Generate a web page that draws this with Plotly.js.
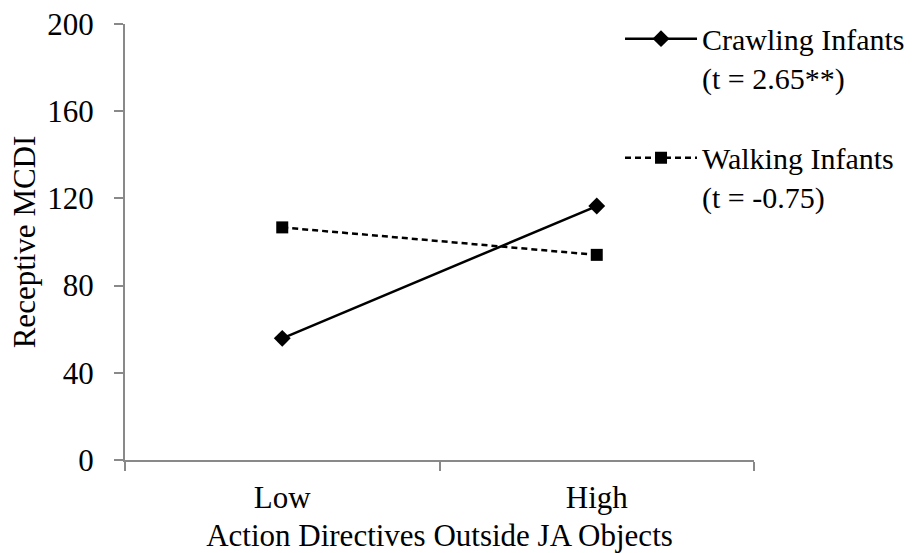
<!DOCTYPE html>
<html>
<head>
<meta charset="utf-8">
<script src="https://cdn.plot.ly/plotly-3.0.1.min.js"></script>
<style>
html,body{margin:0;padding:0;background:#fff}
#chart{width:923px;height:553px}
</style>
</head>
<body>
<div id="chart"></div>
<script>
var categories = ["Low", "High"];
var crawlingValues = [55.8, 116.5];
var walkingValues = [106.7, 94.1];
var crawlingName = "Crawling Infants<br>(t = 2.65**)";
var walkingName = "Walking Infants<br>(t = -0.75)";
var yTicks = [0, 40, 80, 120, 160, 200];

var FONT = "Liberation Serif, Times New Roman, serif";
var AXIS_COLOR = "#898989";

var traces = [
  {
    x: categories, y: crawlingValues, name: crawlingName, legendgroup: "a",
    type: "scatter", mode: "lines+markers",
    line: {color: "#000", width: 2.5, dash: "solid"},
    marker: {symbol: "diamond", size: 13, color: "#000"}
  },
  {
    x: categories, y: walkingValues, name: walkingName, legendgroup: "b",
    type: "scatter", mode: "lines+markers",
    line: {color: "#000", width: 2.5, dash: "6px,4px"},
    marker: {symbol: "square", size: 12, color: "#000"}
  }
];

var layout = {
  width: 923, height: 553,
  margin: {l: 125, r: 169, t: 24, b: 93},
  paper_bgcolor: "#fff", plot_bgcolor: "#fff",
  font: {family: FONT, size: 31, color: "#000"},
  showlegend: true,
  legend: {
    x: 0.787, xanchor: "left", y: 1.026, yanchor: "top",
    font: {family: FONT, size: 30, color: "#000"},
    valign: "top", tracegroupgap: 38, itemwidth: 72,
    bgcolor: "rgba(0,0,0,0)"
  },
  xaxis: {
    type: "category", range: [-0.5, 1.5],
    tickson: "boundaries", ticks: "outside", ticklen: 9, tickwidth: 2, tickcolor: AXIS_COLOR,
    showline: true, linecolor: AXIS_COLOR, linewidth: 2,
    showgrid: false, zeroline: false,
    ticklabelstandoff: 9,
    tickfont: {family: FONT, size: 31},
    title: {text: "Action Directives Outside JA Objects", font: {family: FONT, size: 31}, standoff: 10}
  },
  yaxis: {
    range: [0, 200], tickvals: yTicks, ticktext: yTicks.map(String),
    ticks: "outside", ticklen: 9, tickwidth: 2, tickcolor: AXIS_COLOR,
    showline: true, linecolor: AXIS_COLOR, linewidth: 2,
    showgrid: false, zeroline: false,
    ticklabelstandoff: 14,
    tickfont: {family: FONT, size: 31},
    title: {text: "Receptive MCDI", font: {family: FONT, size: 31}, standoff: 2}
  }
};

Plotly.newPlot("chart", traces, layout, {displayModeBar: false, staticPlot: true});
</script>
</body>
</html>
